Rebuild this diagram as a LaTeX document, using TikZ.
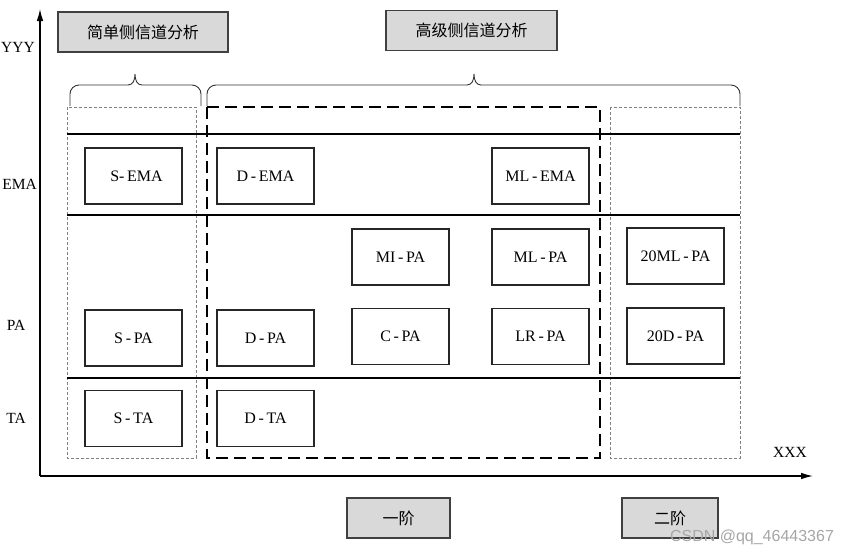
\documentclass[tikz,border=0pt]{standalone}
\usepackage{fontspec}
\setmainfont{Liberation Serif}
\newfontfamily\cjkfont{Noto Sans CJK SC}
\newfontfamily\markfont{Liberation Sans}
\usetikzlibrary{arrows.meta}
\definecolor{tagfill}{HTML}{D9D9D9}
\definecolor{tagline}{HTML}{404040}
\tikzset{
  cell/.style={draw=black!85, line width=1.1pt, minimum width=97pt, minimum height=56pt,
    inner sep=0pt, font=\fontsize{16}{16}\selectfont},
  tag/.style={draw=tagline, fill=tagfill, line width=1.2pt, minimum height=40pt,
    inner sep=0pt, font=\cjkfont\fontsize{16}{16}\selectfont},
  axislabel/.style={inner sep=0pt, font=\fontsize{15.5}{15.5}\selectfont},
  rowline/.style={line width=1.6pt},
  thinbox/.style={gray, line width=0.8pt, dash pattern=on 3pt off 2pt},
  thickbox/.style={line width=1.8pt, dash pattern=on 12pt off 6pt},
  bracket/.style={line width=0.9pt, black!80}
}
\begin{document}
\begin{tikzpicture}[x=1pt, y=-1pt]
    \useasboundingbox (0,0) rectangle (855,555);
    % axes
    \coordinate (o) at (40,476);
    \coordinate (ytip) at (40,9);
    \coordinate (xtip) at (813,476);
    \draw[line width=1.2pt, -{Latex[length=12pt,width=6.5pt]}] (o) -- (ytip);
    \draw[line width=1.2pt, -{Latex[length=12pt,width=6.5pt]}] (o) -- (xtip);
    \node[axislabel, anchor=east] (yyy) at (35,47) {YYY};
    \node[axislabel, anchor=east] (ema) at (37,184) {EMA};
    \node[axislabel] (pa) at (16,325) {PA};
    \node[axislabel] (ta) at (16,418) {TA};
    \node[axislabel] (xxx) at (790,452) {XXX};
    % group boxes
    \draw[thinbox] (67,107) rectangle (196,458);
    \draw[thickbox] (207,107) rectangle (600,458);
    \draw[thinbox] (610,107) rectangle (740,458);
    % row lines
    \draw[rowline] (67,134) -- (740,134);
    \draw[rowline] (67,215) -- (740,215);
    \draw[rowline] (67,378) -- (740,378);
    % braces
    \draw[bracket, rounded corners=9pt] (70,106) -- (70,85) -- (128,85);
    \draw[bracket] (128,85) .. controls (133,85) and (135,80) .. (135,74)
        .. controls (135,80) and (137,85) .. (142,85);
    \draw[bracket, rounded corners=9pt] (142,85) -- (201,85) -- (201,106);
    \draw[bracket, rounded corners=9pt] (207,106) -- (207,85) -- (467,85);
    \draw[bracket] (467,85) .. controls (472,85) and (474,80) .. (474,74)
        .. controls (474,80) and (476,85) .. (481,85);
    \draw[bracket, rounded corners=9pt] (481,85) -- (740,85) -- (740,106);
    % headings
    \node[tag, minimum width=170pt] (simple) at (143,32) {简单侧信道分析};
    \node[tag, minimum width=171pt] (advanced) at (471.5,30.5) {高级侧信道分析};
    \node[tag, minimum width=103pt] (first) at (398.5,518) {一阶};
    \node[tag, minimum width=96pt] (second) at (670,518) {二阶};
    % row EMA
    \node[cell] (sema) at (133.5,176) {\hspace{6pt}S-\,EMA};
    \node[cell] (dema) at (265.5,176) {D\,-\,EMA};
    \node[cell] (mlema) at (540.5,176) {ML\,-\,EMA};
    % row PA
    \node[cell] (mipa) at (400.5,257) {MI\,-\,PA};
    \node[cell] (mlpa) at (540.5,257) {ML\,-\,PA};
    \node[cell] (mlpa20) at (675.5,256) {20ML\,-\,PA};
    \node[cell] (spa) at (133.5,338) {S\,-\,PA};
    \node[cell] (dpa) at (265.5,338) {D\,-\,PA};
    \node[cell] (cpa) at (400.5,336.5) {C\,-\,PA};
    \node[cell] (lrpa) at (540.5,336.5) {LR\,-\,PA};
    \node[cell] (dpa20) at (675.5,336) {20D\,-\,PA};
    % row TA
    \node[cell] (sta) at (133.5,418.5) {S\,-\,TA};
    \node[cell] (dta) at (265.5,418.5) {D\,-\,TA};
    % watermark
    \node[inner sep=0pt, text=gray!70, font=\markfont\fontsize{16}{16}\selectfont]
        (mark) at (752,537) {CSDN @qq\_46443367};
\end{tikzpicture}
\end{document}
